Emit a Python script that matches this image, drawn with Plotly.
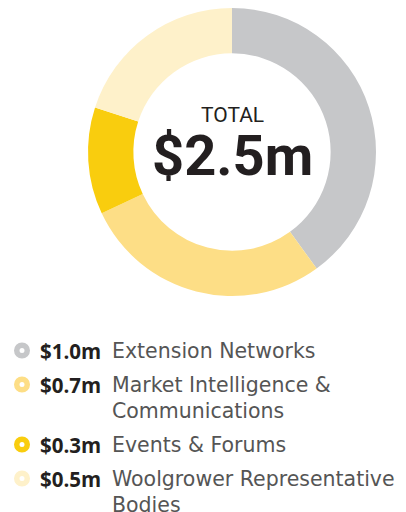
import plotly.graph_objects as go

categories = ["Extension Networks", "Market Intelligence &<br>Communications",
              "Events & Forums", "Woolgrower Representative<br>Bodies"]
values = [1.0, 0.7, 0.3, 0.5]
amount_labels = ["$1.0m", "$0.7m", "$0.3m", "$0.5m"]
colors = ["#C6C7C9", "#FDDE86", "#F9CD0E", "#FEF1CA"]
total_label = "$2.5m"

W, H = 406, 512
cx, cy, R = 232, 152, 144

fig = go.Figure()
fig.add_trace(go.Pie(
    values=values, labels=[c.replace("<br>", " ") for c in categories],
    marker=dict(colors=colors, line=dict(width=0)),
    hole=0.685, sort=False, direction="clockwise", rotation=0,
    textinfo="none", hoverinfo="label+value", showlegend=False,
    domain=dict(x=[(cx - R) / W, (cx + R) / W], y=[1 - (cy + R) / H, 1 - (cy - R) / H]),
))

# legend rows
row_y = []
y = 350.5
line_gap = 26
entry_gap = 34
for c in categories:
    row_y.append(y)
    y += entry_gap + line_gap * (len(c.split("<br>")) - 1)

fig.add_trace(go.Scatter(
    x=[22] * len(values), y=row_y, mode="markers",
    marker=dict(size=10.5, color="white", line=dict(color=colors, width=5.5)),
    hoverinfo="skip", showlegend=False,
))

anns = []
anns.append(dict(x=cx, y=115, xref="x", yref="y", text="TOTAL", showarrow=False,
                 font=dict(family="Roboto", size=21, color="#231F20"), height=22,
                 xanchor="center", yanchor="middle", valign="middle"))
anns.append(dict(x=cx, y=156, xref="x", yref="y", text="<b>%s</b>" % total_label, showarrow=False,
                 font=dict(family="Roboto", size=56, color="#231F20"), height=58,
                 xanchor="center", yanchor="middle", valign="middle"))
for amt, cat, ry in zip(amount_labels, categories, row_y):
    anns.append(dict(x=103, y=ry, xref="x", yref="y", text="<b>%s</b>" % amt, showarrow=False,
                     font=dict(family="Open Sans", size=20.5, color="#231F20"),
                     xanchor="right", yanchor="middle"))
    for i, part in enumerate(cat.split("<br>")):
        anns.append(dict(x=110, y=ry + i * line_gap, xref="x", yref="y", text=part, showarrow=False,
                         font=dict(family="DejaVu Sans", size=20.5, color="#555555"),
                         xanchor="left", yanchor="middle"))

fig.update_layout(
    width=W, height=H, margin=dict(l=0, r=0, t=0, b=0),
    paper_bgcolor="white", plot_bgcolor="white",
    xaxis=dict(range=[0, W], visible=False, fixedrange=True),
    yaxis=dict(range=[H, 0], visible=False, fixedrange=True),
    annotations=anns,
)
fig.write_html("out.html", config={"displayModeBar": False},
               post_script="document.body.style.margin='0';document.body.style.overflow='hidden';")
